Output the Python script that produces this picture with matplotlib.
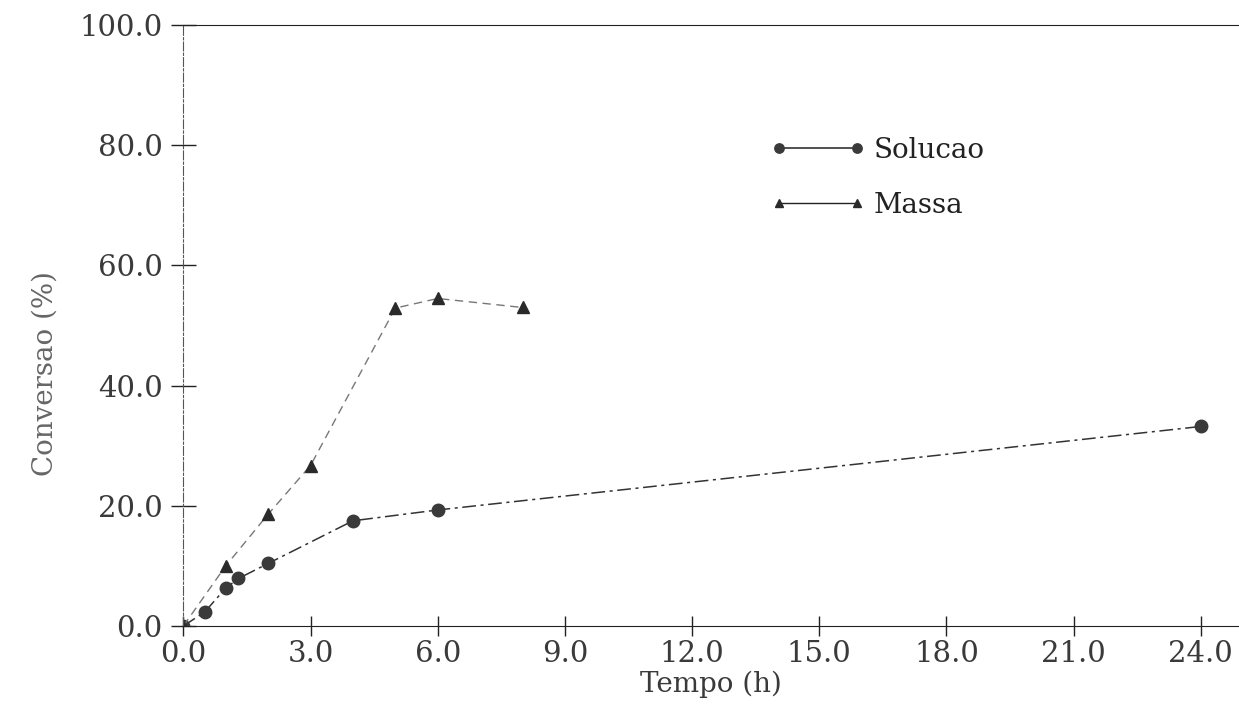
import matplotlib
matplotlib.use('Agg')
import matplotlib.pyplot as plt
from matplotlib.ticker import FormatStrFormatter

# dados
tempo_sol = [0, 0.5, 1, 1.3, 2, 4, 6, 24]
conv_sol = [0, 2.3, 6.3, 7.9, 10.4, 17.5, 19.3, 33.2]

tempo_mas = [0, 1, 2, 3, 5, 6, 8]
conv_mas = [0, 10.0, 18.6, 26.7, 52.9, 54.5, 53.0]

xticks = [0, 3, 6, 9, 12, 15, 18, 21, 24]
yticks = [0, 20, 40, 60, 80, 100]

plt.rcParams['font.family'] = ['DejaVu Serif']
txt = '#3a3a3a'

fig = plt.figure(figsize=(12.39, 7.17), dpi=100)
ax = fig.add_axes([0.148, 0.127, 0.852, 0.838])

ax.plot(tempo_sol, conv_sol, color='#333333', lw=1.1, ls=(0, (9, 3, 2, 3)),
        marker='o', ms=9, mfc='#3a3a3a', mec='#3a3a3a', label='Solucao')
ax.plot(tempo_mas, conv_mas, color='#777777', lw=1.0, ls=(0, (6, 4)),
        marker='^', ms=8.5, mfc='#2a2a2a', mec='#2a2a2a', label='Massa')

ax.set_xlim(0, 24.9)
ax.set_ylim(0, 100)
ax.set_xticks(xticks)
ax.set_yticks(yticks)
ax.xaxis.set_major_formatter(FormatStrFormatter('%.1f'))
ax.yaxis.set_major_formatter(FormatStrFormatter('%.1f'))
ax.tick_params(axis='x', direction='inout', length=14, width=1, colors='#222222',
               labelsize=21, labelcolor=txt, pad=3)
ax.tick_params(axis='y', direction='inout', length=18, width=1, colors='#222222',
               labelsize=21, labelcolor=txt, pad=6)

ax.spines['right'].set_visible(False)
ax.spines['left'].set_linestyle((0, (8, 2, 2, 2)))
ax.spines['left'].set_color('#555555')
ax.spines['top'].set_color('#222222')
ax.spines['bottom'].set_color('#222222')

ax.set_xlabel('Tempo (h)', fontsize=20, color=txt, labelpad=2)
ax.set_ylabel('Conversao (%)', fontsize=20, color='#666666')
ax.yaxis.set_label_coords(-0.118, 0.42)

leg = ax.legend(loc='upper left', bbox_to_anchor=(0.533, 0.855), frameon=False,
                numpoints=2, handlelength=3.4, fontsize=20, labelspacing=1.0,
                handletextpad=0.3, markerscale=0.75)
for line in leg.get_lines():
    line.set_linestyle('-')
    line.set_color('#222222')
for t in leg.get_texts():
    t.set_color('#222222')

fig.savefig('out.png', dpi=100)
